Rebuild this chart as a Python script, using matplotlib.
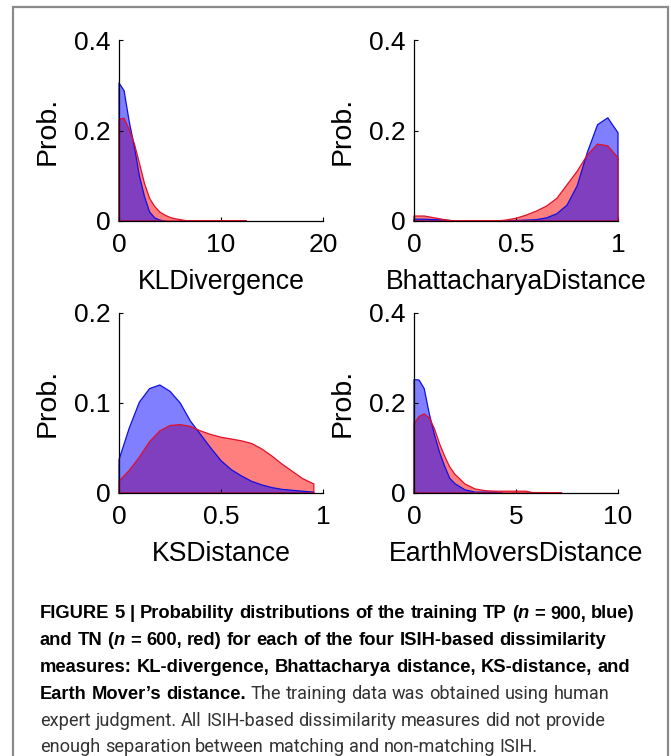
import re
import matplotlib
matplotlib.use("Agg")
import matplotlib.pyplot as plt
from matplotlib import font_manager as fm
from matplotlib.patches import Rectangle

plt.rcParams['font.family'] = ['Liberation Sans', 'DejaVu Sans']

###############################################################################
# Data (TP = blue, TN = red)
###############################################################################

# KL divergence
kl_x_tp = [0, 0.5, 1, 1.5, 2, 2.5, 3, 3.5, 4, 4.5]
kl_tp = [0.305, 0.288, 0.22, 0.165, 0.10, 0.054, 0.02, 0.007, 0.002, 0.0]
kl_x_tn = [0, 0.5, 1, 1.5, 2, 2.5, 3, 3.5, 4, 4.5, 5, 5.5, 6, 6.5, 7, 9, 11, 12.5]
kl_tn = [0.225, 0.227, 0.203, 0.171, 0.128, 0.083, 0.05, 0.032, 0.02, 0.013,
         0.008, 0.005, 0.003, 0.001, 0.0005, 0.0005, 0.0005, 0.0]

# Bhattacharya distance
bh_x = [0, 0.05, 0.1, 0.15, 0.2, 0.25, 0.3, 0.35, 0.4, 0.45, 0.5,
        0.55, 0.6, 0.65, 0.7, 0.75, 0.8, 0.85, 0.9, 0.95, 1.0]
bh_tp = [0.004, 0.004, 0.003, 0.002, 0, 0, 0, 0, 0, 0.001, 0.001,
         0.002, 0.003, 0.007, 0.016, 0.035, 0.078, 0.152, 0.213, 0.228, 0.195]
bh_tn = [0.011, 0.011, 0.007, 0.003, 0, 0, 0, 0, 0, 0.002, 0.006,
         0.013, 0.022, 0.033, 0.05, 0.08, 0.11, 0.146, 0.17, 0.166, 0.14]

# KS distance
ks_x = [0, 0.05, 0.1, 0.15, 0.2, 0.25, 0.3, 0.35, 0.4, 0.45,
        0.5, 0.55, 0.6, 0.65, 0.7, 0.75, 0.8, 0.85, 0.9, 0.955]
ks_tp = [0.037, 0.072, 0.101, 0.116, 0.12, 0.113, 0.1, 0.08, 0.065, 0.05,
         0.036, 0.026, 0.019, 0.013, 0.009, 0.006, 0.004, 0.003, 0.002, 0.001]
ks_tn = [0.013, 0.025, 0.04, 0.057, 0.069, 0.075, 0.076, 0.074, 0.069, 0.065,
         0.062, 0.06, 0.058, 0.055, 0.049, 0.041, 0.032, 0.024, 0.016, 0.01]

# Earth mover's distance
emd_x_tp = [0, 0.25, 0.5, 0.75, 1.0, 1.25, 1.5, 1.75, 2.0, 2.5, 3.0, 3.5, 4.0, 4.3]
emd_tp = [0.252, 0.251, 0.232, 0.176, 0.13, 0.091, 0.06, 0.033, 0.021, 0.007,
          0.002, 0.002, 0.002, 0.0]
emd_x_tn = [0, 0.25, 0.5, 0.75, 1.0, 1.25, 1.5, 1.75, 2.0, 2.5, 3.0, 3.5, 4.0,
            4.5, 5.0, 5.5, 5.8, 6.5, 7.25]
emd_tn = [0.154, 0.17, 0.176, 0.167, 0.143, 0.11, 0.082, 0.058, 0.042, 0.02,
          0.009, 0.005, 0.004, 0.004, 0.004, 0.004, 0.001, 0.001, 0.0]

panels = [
    dict(name="KLDivergence", tp=(kl_x_tp, kl_tp), tn=(kl_x_tn, kl_tn),
         xlim=20, xticks=[0, 10, 20], xlabels=["0", "10", "20"],
         ylim=0.4, yticks=[0, 0.2, 0.4], ylabels=["0", "0.2", "0.4"]),
    dict(name="BhattacharyaDistance", tp=(bh_x, bh_tp), tn=(bh_x, bh_tn),
         xlim=1, xticks=[0, 0.5, 1], xlabels=["0", "0.5", "1"],
         ylim=0.4, yticks=[0, 0.2, 0.4], ylabels=["0", "0.2", "0.4"]),
    dict(name="KSDistance", tp=(ks_x, ks_tp), tn=(ks_x, ks_tn),
         xlim=1, xticks=[0, 0.5, 1], xlabels=["0", "0.5", "1"],
         ylim=0.2, yticks=[0, 0.1, 0.2], ylabels=["0", "0.1", "0.2"]),
    dict(name="EarthMoversDistance", tp=(emd_x_tp, emd_tp), tn=(emd_x_tn, emd_tn),
         xlim=10, xticks=[0, 5, 10], xlabels=["0", "5", "10"],
         ylim=0.4, yticks=[0, 0.2, 0.4], ylabels=["0", "0.2", "0.4"]),
]

# caption: list of lines, each a list of (text, weight, style)
caption = [
    [("FIGURE 5 | Probability distributions of the training TP (", "bold", "normal"),
     ("n", "bold", "italic"), (" = 900, blue)", "bold", "normal")],
    [("and TN (", "bold", "normal"), ("n", "bold", "italic"),
     (" = 600, red) for each of the four ISIH-based dissimilarity", "bold", "normal")],
    [("measures: KL-divergence, Bhattacharya distance, KS-distance, and", "bold", "normal")],
    [("Earth Mover\u2019s distance.", "bold", "normal"),
     (" The training data was obtained using human", "normal", "normal")],
    [("expert judgment. All ISIH-based dissimilarity measures did not provide", "normal", "normal")],
    [("enough separation between matching and non-matching ISIH.", "normal", "normal")],
]

###############################################################################
# Plot parameters
###############################################################################
W, H = 671, 756
tick_size = 19
xlab_size = 19.2
ylab_size = 20.5
blue_fill = (0, 0, 1, 0.5)
red_fill = (1, 0, 0, 0.5)

names = {f.name for f in fm.fontManager.ttflist}
cap_families = [f for f in ("Roboto", "Liberation Sans", "Roboto Condensed") if f in names]

# axes boxes in pixels: left, top, width, height
boxes = [(119, 40, 204, 181), (414, 40, 204, 181),
         (119, 313, 204, 180), (414, 313, 204, 180)]

fig = plt.figure(figsize=(W / 100, H / 100), dpi=100)

for p, (l, t, w, h) in zip(panels, boxes):
    ax = fig.add_axes([l / W, 1 - (t + h) / H, w / W, h / H])
    for key, fc in (("tn", red_fill), ("tp", blue_fill)):
        x, y = p[key]
        xs = [x[0]] + list(x) + [x[-1]]
        ys = [0] + list(y) + [0]
        ax.fill(xs, ys, facecolor=fc, edgecolor="none")
    for key, lc in (("tp", "#1010e0"), ("tn", "#e0102a")):
        x, y = p[key]
        xs = [x[0]] + list(x) + [x[-1], x[0]]
        ys = [0] + list(y) + [0, 0]
        ax.plot(xs, ys, color=lc, lw=0.9, clip_on=False)
    ax.set_xlim(0, p["xlim"])
    ax.set_ylim(0, p["ylim"])
    ax.set_xticks(p["xticks"])
    ax.set_xticklabels(p["xlabels"])
    ax.set_yticks(p["yticks"])
    ax.set_yticklabels(p["ylabels"])
    ax.tick_params(direction="in", length=3, width=0.8, labelsize=tick_size)
    ax.tick_params(axis="x", pad=9)
    ax.tick_params(axis="y", pad=6)
    for s in ("top", "right"):
        ax.spines[s].set_visible(False)
    for s in ("left", "bottom"):
        ax.spines[s].set_linewidth(0.9)
    ax.set_xlabel(p["name"], fontsize=xlab_size, labelpad=8)
    ax.set_ylabel("Prob.", fontsize=ylab_size, labelpad=10)
    ax.set_facecolor("none")

# grey frame around the figure
fig.add_artist(Rectangle((13 / W, -0.05), (668 - 13) / W, 1 - 7 / H + 0.05,
                         transform=fig.transFigure, fill=False,
                         edgecolor="#8a8a8a", lw=1.6))

###############################################################################
# Caption, ragged right, laid out word by word
###############################################################################
fig.canvas.draw()
r = fig.canvas.get_renderer()


def text_w(s, size, weight, style, family):
    t = fig.text(0, 0, s, fontsize=size, fontweight=weight, fontstyle=style,
                 family=family)
    w = t.get_window_extent(r).width
    t.remove()
    return w


def tokens_of(line):
    out = []
    for s, wt, st in line:
        for tok in re.split(r"( )", s):
            if tok:
                out.append((tok, wt, st))
    return out


def tok_w(tok, wt, st, sz, fam):
    if tok == " ":
        return text_w("a a", sz, wt, st, fam) - text_w("aa", sz, wt, st, fam)
    return text_w(tok, sz, wt, st, fam)


def line_w(line, sz, fam):
    return sum(tok_w(tok, wt, st, sz, fam) for tok, wt, st in tokens_of(line))


cap_left = 40
# regular text: the last line ends near x = 539
reg_family = cap_families[0]
reg_size = 13.5
reg_size = min(14.5, max(12.5, reg_size * 499 / line_w(caption[5], reg_size, reg_family)))

# bold text: the third line ends near x = 632
best = None
for fam in cap_families:
    nb = line_w(caption[2], reg_size, fam)
    if best is None or abs(nb - 592) < best[0]:
        best = (abs(nb - 592), fam, nb)
bold_family = best[1]
bold_size = reg_size * min(1.06, max(0.94, 592 / best[2]))

sizes = {"bold": bold_size, "normal": reg_size}
fams = {"bold": bold_family, "normal": reg_family}
colors = {"bold": "#000000", "normal": "#333333"}

y0, dy = 618.5, 26.8
for i, line in enumerate(caption):
    x = cap_left
    yb = y0 + i * dy
    for tok, wt, st in tokens_of(line):
        sz, fam = sizes[wt], fams[wt]
        if tok != " ":
            fig.text(x / W, 1 - yb / H, tok, fontsize=sz, fontweight=wt,
                     fontstyle=st, family=fam, color=colors[wt], va="baseline")
        x += tok_w(tok, wt, st, sz, fam)

plt.savefig("out.png", dpi=100)
